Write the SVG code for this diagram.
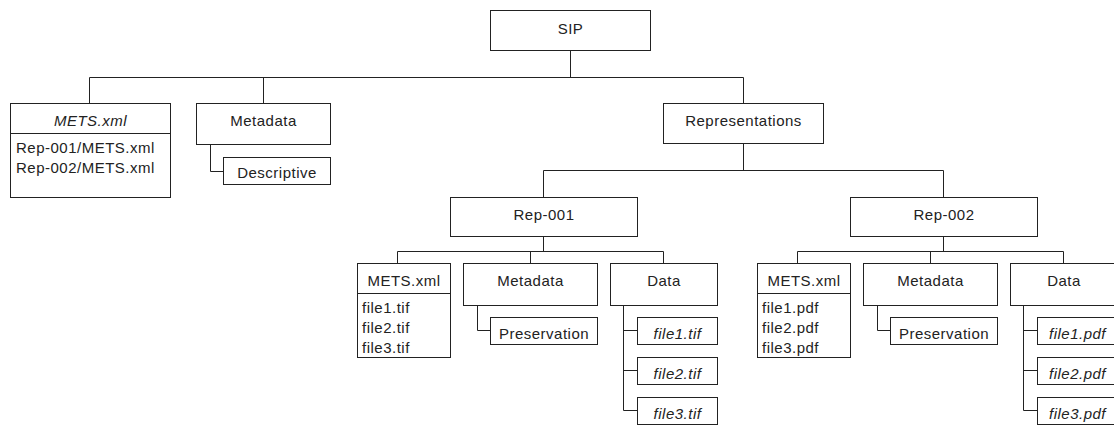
<svg xmlns="http://www.w3.org/2000/svg" width="1114" height="428" viewBox="0 0 1114 428">
  <style>
    .box { fill: #ffffff; stroke: #222222; stroke-width: 1; }
    .sep { stroke: #222222; stroke-width: 1; fill: none; }
    .wire { stroke: #222222; stroke-width: 1; fill: none; }
    text { font-family: "Liberation Sans", Arial, sans-serif; font-size: 15px; letter-spacing: 0.5px; fill: #222222; }
    .c { text-anchor: middle; }
    .it { font-style: italic; }
  </style>

  <rect width="1114" height="428" fill="#ffffff"/>

  <!-- tree connectors -->
  <g id="connectors">
    <!-- SIP to its children -->
    <path class="wire" d="M570.5 50.5 V77.5 M89.5 77.5 H743.5 M89.5 77.5 V103.5 M263.5 77.5 V103.5 M743.5 77.5 V103.5"/>
    <!-- Metadata to Descriptive -->
    <path class="wire" d="M210.5 144.5 V171.5 H223.5"/>
    <!-- Representations to Rep-001 / Rep-002 -->
    <path class="wire" d="M743.5 143.5 V170.5 M543.5 170.5 H943.5 M543.5 170.5 V197.5 M943.5 170.5 V197.5"/>
    <!-- Rep-001 children -->
    <path class="wire" d="M543.5 236.5 V251.5 M397.5 251.5 H663.5 M397.5 251.5 V263.5 M530.5 251.5 V263.5 M663.5 251.5 V263.5"/>
    <path class="wire" d="M477.5 305.5 V330.5 H490.5"/>
    <path class="wire" d="M623.5 305.5 V410.5 M623.5 330.5 H637.5 M623.5 370.5 H637.5 M623.5 410.5 H637.5"/>
    <!-- Rep-002 children -->
    <path class="wire" d="M943.5 236.5 V251.5 M797.5 251.5 H1063.5 M797.5 251.5 V263.5 M930.5 251.5 V263.5 M1063.5 251.5 V263.5"/>
    <path class="wire" d="M877.5 305.5 V330.5 H890.5"/>
    <path class="wire" d="M1023.5 305.5 V410.5 M1023.5 330.5 H1037.5 M1023.5 370.5 H1037.5 M1023.5 410.5 H1037.5"/>
  </g>

  <g id="sip">
    <rect class="box" x="490.5" y="10.5" width="160" height="40"/>
    <text class="c" x="570.5" y="33.5">SIP</text>
  </g>

  <g id="mets-root">
    <rect class="box" x="10.5" y="103.5" width="160" height="94"/>
    <line class="sep" x1="10.5" y1="133.5" x2="170.5" y2="133.5"/>
    <text class="c it" x="90.5" y="126">METS.xml</text>
    <text x="16" y="152.5">Rep-001/METS.xml</text>
    <text x="16" y="172.5">Rep-002/METS.xml</text>
  </g>

  <g id="metadata-root">
    <rect class="box" x="196.5" y="103.5" width="134" height="41"/>
    <text class="c" x="263.5" y="126">Metadata</text>
  </g>

  <g id="descriptive">
    <rect class="box" x="223.5" y="157.5" width="107" height="27"/>
    <text class="c" x="277" y="178">Descriptive</text>
  </g>

  <g id="representations">
    <rect class="box" x="663.5" y="103.5" width="160" height="40"/>
    <text class="c" x="743.5" y="126">Representations</text>
  </g>

  <!-- Rep-001 branch -->
  <g id="rep-001">
    <rect class="box" x="450.5" y="197.5" width="187" height="39"/>
    <text class="c" x="544" y="220">Rep-001</text>
  </g>

  <g id="rep-001-mets">
    <rect class="box" x="357.5" y="263.5" width="93" height="94"/>
    <line class="sep" x1="357.5" y1="293.5" x2="450.5" y2="293.5"/>
    <text class="c" x="404" y="286">METS.xml</text>
    <text x="362" y="312.5">file1.tif</text>
    <text x="362" y="332.5">file2.tif</text>
    <text x="362" y="352.5">file3.tif</text>
  </g>

  <g id="rep-001-metadata">
    <rect class="box" x="463.5" y="263.5" width="134" height="42"/>
    <text class="c" x="530.5" y="286">Metadata</text>
  </g>

  <g id="rep-001-preservation">
    <rect class="box" x="490.5" y="317.5" width="107" height="27"/>
    <text class="c" x="544" y="338.5">Preservation</text>
  </g>

  <g id="rep-001-data">
    <rect class="box" x="610.5" y="263.5" width="107" height="42"/>
    <text class="c" x="664" y="286">Data</text>
  </g>

  <g id="rep-001-file1">
    <rect class="box" x="637.5" y="317.5" width="80" height="27"/>
    <text class="c it" x="677.5" y="338.5">file1.tif</text>
  </g>
  <g id="rep-001-file2">
    <rect class="box" x="637.5" y="357.5" width="80" height="27"/>
    <text class="c it" x="677.5" y="378.5">file2.tif</text>
  </g>
  <g id="rep-001-file3">
    <rect class="box" x="637.5" y="397.5" width="80" height="27"/>
    <text class="c it" x="677.5" y="418.5">file3.tif</text>
  </g>

  <!-- Rep-002 branch -->
  <g id="rep-002">
    <rect class="box" x="850.5" y="197.5" width="187" height="39"/>
    <text class="c" x="944" y="220">Rep-002</text>
  </g>

  <g id="rep-002-mets">
    <rect class="box" x="757.5" y="263.5" width="93" height="94"/>
    <line class="sep" x1="757.5" y1="293.5" x2="850.5" y2="293.5"/>
    <text class="c" x="804" y="286">METS.xml</text>
    <text x="762" y="312.5">file1.pdf</text>
    <text x="762" y="332.5">file2.pdf</text>
    <text x="762" y="352.5">file3.pdf</text>
  </g>

  <g id="rep-002-metadata">
    <rect class="box" x="863.5" y="263.5" width="134" height="42"/>
    <text class="c" x="930.5" y="286">Metadata</text>
  </g>

  <g id="rep-002-preservation">
    <rect class="box" x="890.5" y="317.5" width="107" height="27"/>
    <text class="c" x="944" y="338.5">Preservation</text>
  </g>

  <g id="rep-002-data">
    <rect class="box" x="1010.5" y="263.5" width="107" height="42"/>
    <text class="c" x="1064" y="286">Data</text>
  </g>

  <g id="rep-002-file1">
    <rect class="box" x="1037.5" y="317.5" width="80" height="27"/>
    <text class="c it" x="1077.5" y="338.5">file1.pdf</text>
  </g>
  <g id="rep-002-file2">
    <rect class="box" x="1037.5" y="357.5" width="80" height="27"/>
    <text class="c it" x="1077.5" y="378.5">file2.pdf</text>
  </g>
  <g id="rep-002-file3">
    <rect class="box" x="1037.5" y="397.5" width="80" height="27"/>
    <text class="c it" x="1077.5" y="418.5">file3.pdf</text>
  </g>
</svg>
